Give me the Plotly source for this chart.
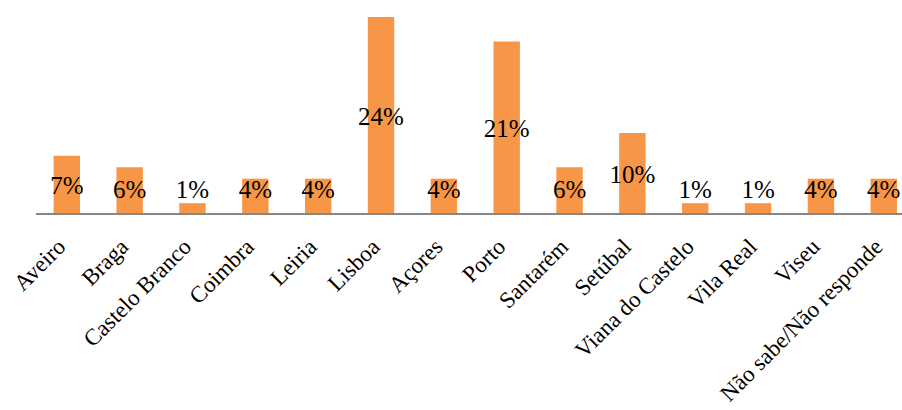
import plotly.graph_objects as go

categories = ["Aveiro", "Braga", "Castelo Branco", "Coimbra", "Leiria", "Lisboa", "Açores",
              "Porto", "Santarém", "Setúbal", "Viana do Castelo", "Vila Real", "Viseu",
              "Não sabe/Não responde"]
values = [7.0, 5.6, 1.2, 4.2, 4.2, 24.0, 4.2, 21.0, 5.6, 9.8, 1.2, 1.2, 4.2, 4.2]
labels = [f"{round(v)}%" for v in values]
label_y = [max(v / 2 - 0.4, 2.6) for v in values]

FONT = "Liberation Serif, Times New Roman, serif"

fig = go.Figure()
fig.add_trace(go.Bar(x=categories, y=values, marker=dict(color="#F79646", line=dict(width=0)),
                     hoverinfo="skip"))
fig.add_trace(go.Scatter(x=categories, y=label_y, mode="text", text=labels,
                         textfont=dict(family=FONT, size=25, color="black"),
                         textposition="middle center", hoverinfo="skip"))

fig.update_layout(
    width=902, height=410,
    margin=dict(l=36, r=0, t=17, b=197),
    paper_bgcolor="white", plot_bgcolor="white",
    showlegend=False, bargap=0.58,
    font=dict(family=FONT, size=23, color="black"),
)
fig.update_xaxes(tickangle=-45, showline=True, linecolor="#868686", linewidth=2,
                 ticks="", showgrid=False, automargin=False, range=[-0.49, 13.29],
                 ticklabelstandoff=9, ticklabelshift=-8,
                 tickfont=dict(family=FONT, size=23, color="black"))
fig.update_yaxes(range=[0, 24], visible=False, showgrid=False, zeroline=False)

fig.write_html("out.html")
